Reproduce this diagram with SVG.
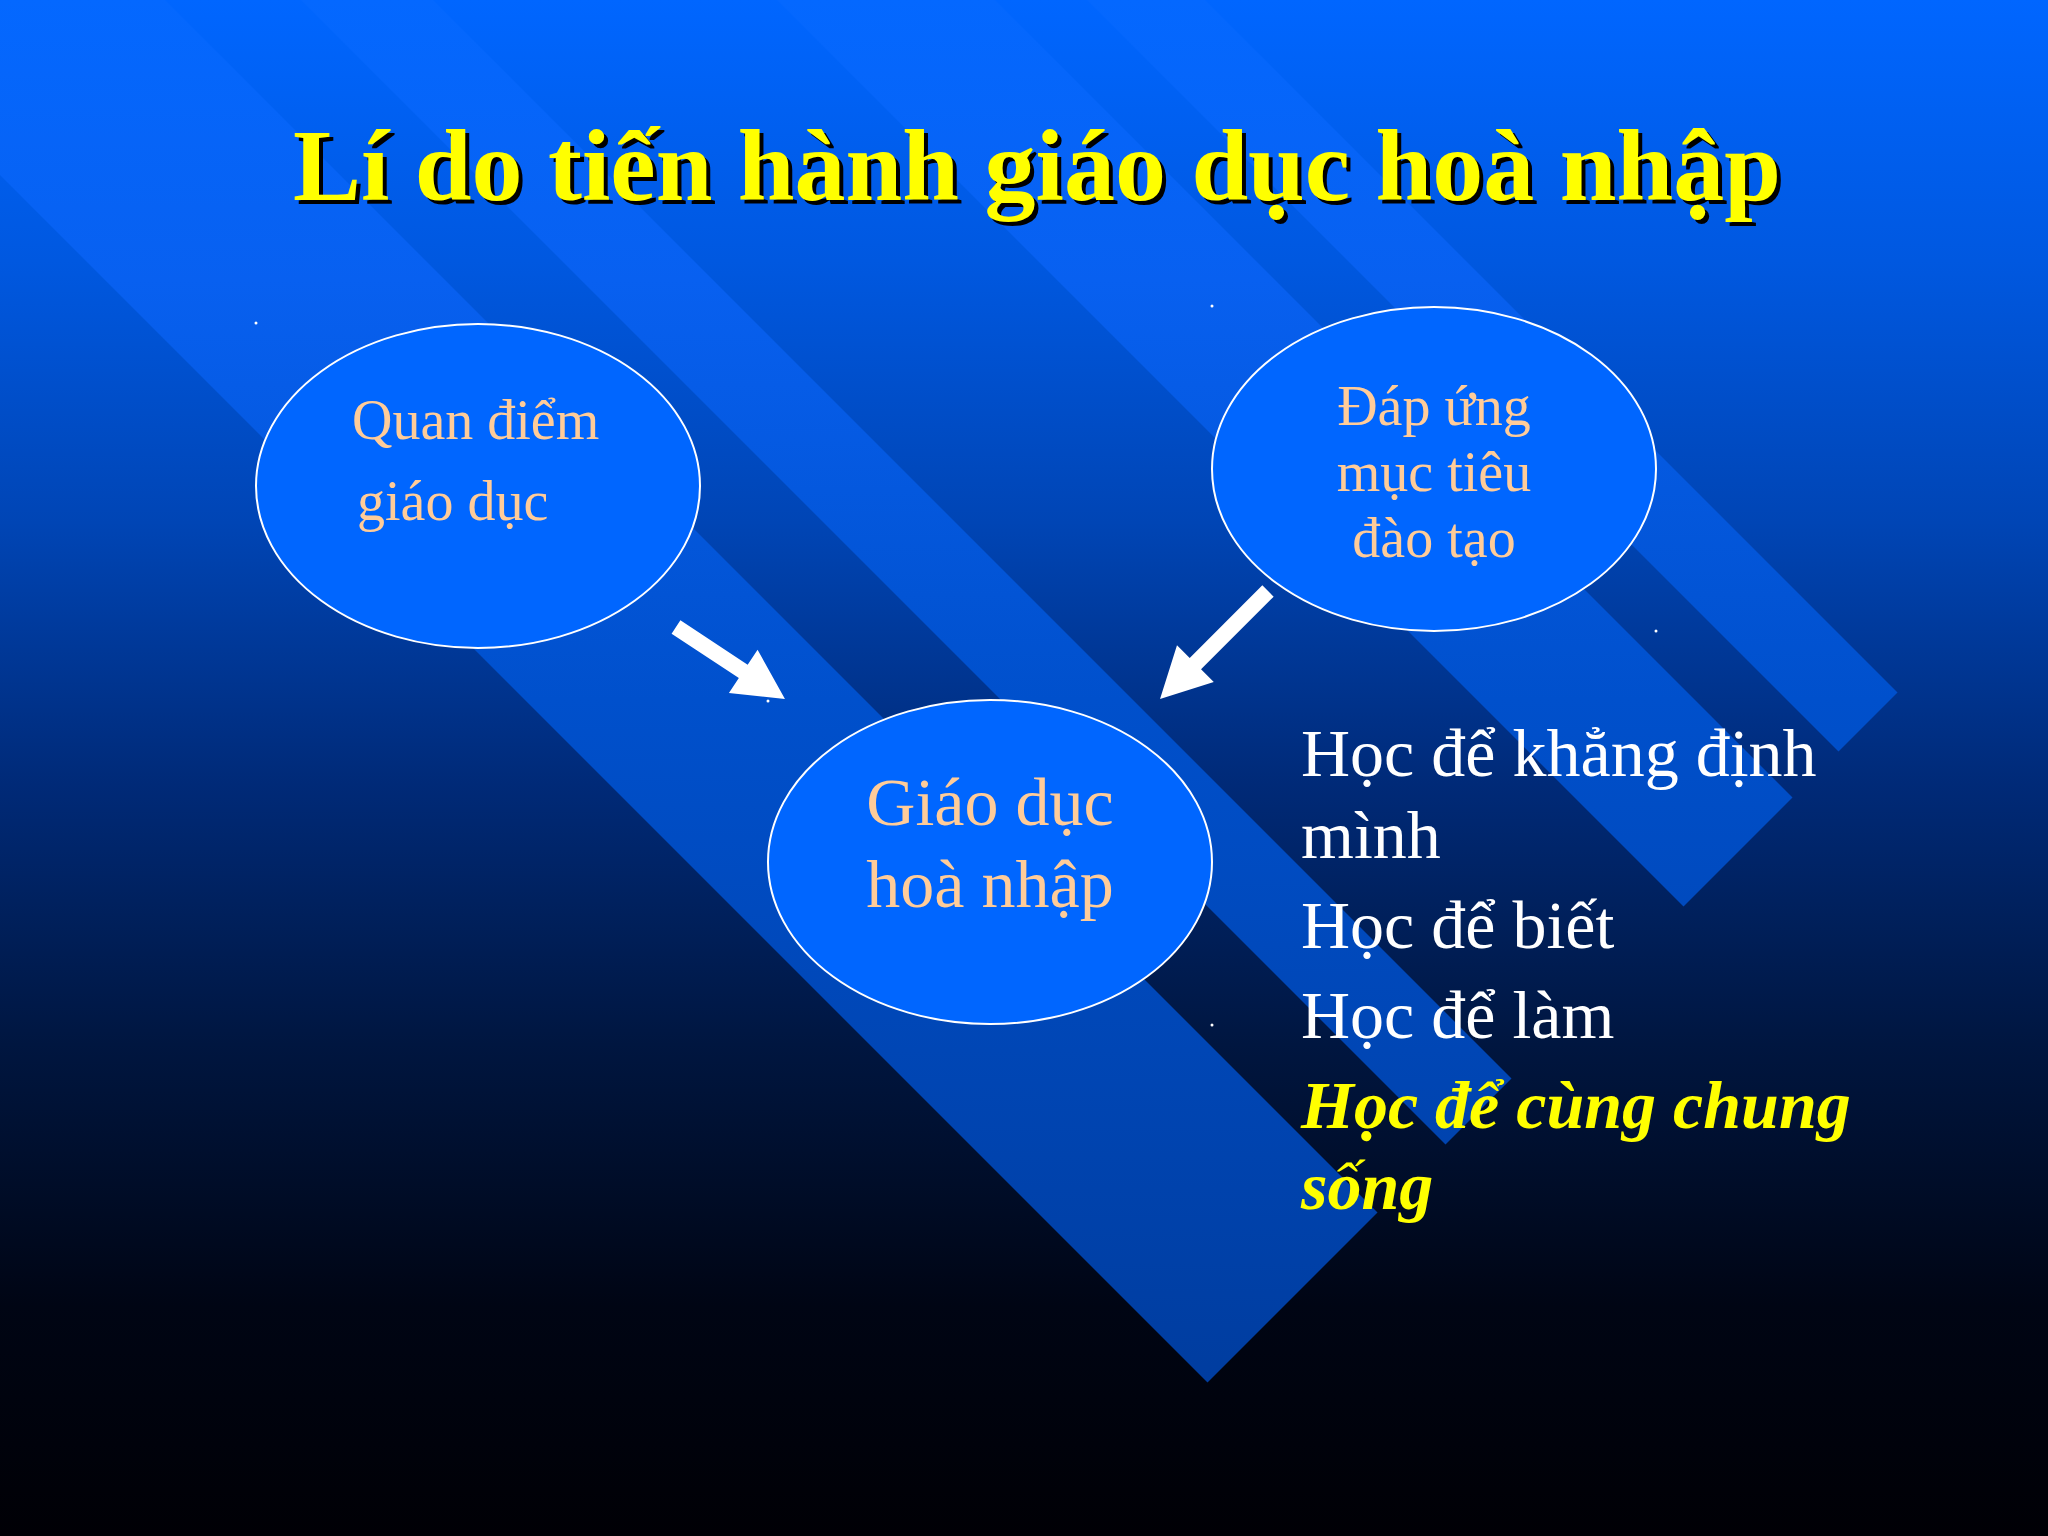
<svg xmlns="http://www.w3.org/2000/svg" width="2048" height="1536" viewBox="0 0 2048 1536">
  <defs>
    <linearGradient id="bg" x1="0" y1="0" x2="0" y2="1536" gradientUnits="userSpaceOnUse">
      <stop offset="0" stop-color="#0066FF"/>
      <stop offset="0.17" stop-color="#0058E0"/>
      <stop offset="0.34" stop-color="#0045B5"/>
      <stop offset="0.51" stop-color="#002A78"/>
      <stop offset="0.68" stop-color="#001640"/>
      <stop offset="0.85" stop-color="#000514"/>
      <stop offset="1" stop-color="#000005"/>
    </linearGradient>
    <linearGradient id="band" x1="0" y1="0" x2="0" y2="1400" gradientUnits="userSpaceOnUse">
      <stop offset="0" stop-color="#0468FF"/>
      <stop offset="0.2" stop-color="#0860F0"/>
      <stop offset="0.5" stop-color="#0050CC"/>
      <stop offset="1" stop-color="#003C9E"/>
    </linearGradient>
    <style>
      .band { fill: url(#band); }
      .node { fill: #0066FF; stroke: #FFFFFF; stroke-width: 2; }
      .ntext { font-family: "Liberation Serif", "Times New Roman", serif; fill: #FFCC99; }
      .title { font-family: "Liberation Serif", "Times New Roman", serif; font-weight: bold; font-size: 102px; }
      .list { font-family: "Liberation Serif", "Times New Roman", serif; font-size: 68px; fill: #FFFFFF; }
      .hl { fill: #FFFF00; font-weight: bold; font-style: italic; }
      .arrow { fill: #FFFFFF; }
      .dot { fill: #FFFFFF; }
    </style>
  </defs>

  <g id="background">
    <rect x="0" y="0" width="2048" height="1536" fill="url(#bg)"/>
    <polygon class="band" points="1207.5,1382.5 1377.5,1212.5 -217.5,-382.5 -387.5,-212.5"/>
    <polygon class="band" points="1445.5,1144.5 1511.5,1078.5 -83.5,-516.5 -149.5,-450.5"/>
    <polygon class="band" points="1683.5,906.5 1792.5,797.5 197.5,-797.5 88.5,-688.5"/>
    <polygon class="band" points="1838.5,751.5 1897.5,692.5 302.5,-902.5 243.5,-843.5"/>
    <circle class="dot" cx="256" cy="323" r="1.5"/>
    <circle class="dot" cx="1212" cy="306" r="1.5"/>
    <circle class="dot" cx="1656" cy="631" r="1.5"/>
    <circle class="dot" cx="1212" cy="1025" r="1.5"/>
    <circle class="dot" cx="768" cy="701" r="1.5"/>
  </g>

  <g id="title">
    <text class="title" x="1041" y="204" text-anchor="middle" fill="#000000">Lí do tiến hành giáo dục hoà nhập</text>
    <text class="title" x="1037" y="200" text-anchor="middle" fill="#FFFF00">Lí do tiến hành giáo dục hoà nhập</text>
  </g>

  <g id="connectors">
    <polygon class="arrow" transform="translate(676,627) rotate(33.45)" points="0,-8 80.6,-8 80.6,-26 130.6,0 80.6,26 80.6,8 0,8"/>
    <polygon class="arrow" transform="translate(1268,591) rotate(135)" points="0,-8 102.7,-8 102.7,-26 152.7,0 102.7,26 102.7,8 0,8"/>
  </g>

  <g id="node-quan-diem">
    <ellipse class="node" cx="478" cy="486" rx="222" ry="162"/>
    <text class="ntext" font-size="56" x="352" y="439">Quan điểm</text>
    <text class="ntext" font-size="56" x="357" y="520">giáo dục</text>
  </g>

  <g id="node-dap-ung">
    <ellipse class="node" cx="1434" cy="469" rx="222" ry="162"/>
    <text class="ntext" font-size="56" x="1434" y="425" text-anchor="middle">Đáp ứng</text>
    <text class="ntext" font-size="56" x="1434" y="491" text-anchor="middle">mục tiêu</text>
    <text class="ntext" font-size="56" x="1434" y="557" text-anchor="middle">đào tạo</text>
  </g>

  <g id="node-giao-duc-hoa-nhap">
    <ellipse class="node" cx="990" cy="862" rx="222" ry="162"/>
    <text class="ntext" font-size="68" x="990" y="825" text-anchor="middle">Giáo dục</text>
    <text class="ntext" font-size="68" x="990" y="907" text-anchor="middle">hoà nhập</text>
  </g>

  <g id="list">
    <text class="list" x="1301" y="776">Học để khẳng định</text>
    <text class="list" x="1301" y="858">mình</text>
    <text class="list" x="1301" y="948">Học để biết</text>
    <text class="list" x="1301" y="1038">Học để làm</text>
    <text class="list hl" x="1301" y="1128">Học để cùng chung</text>
    <text class="list hl" x="1301" y="1209">sống</text>
  </g>
</svg>
